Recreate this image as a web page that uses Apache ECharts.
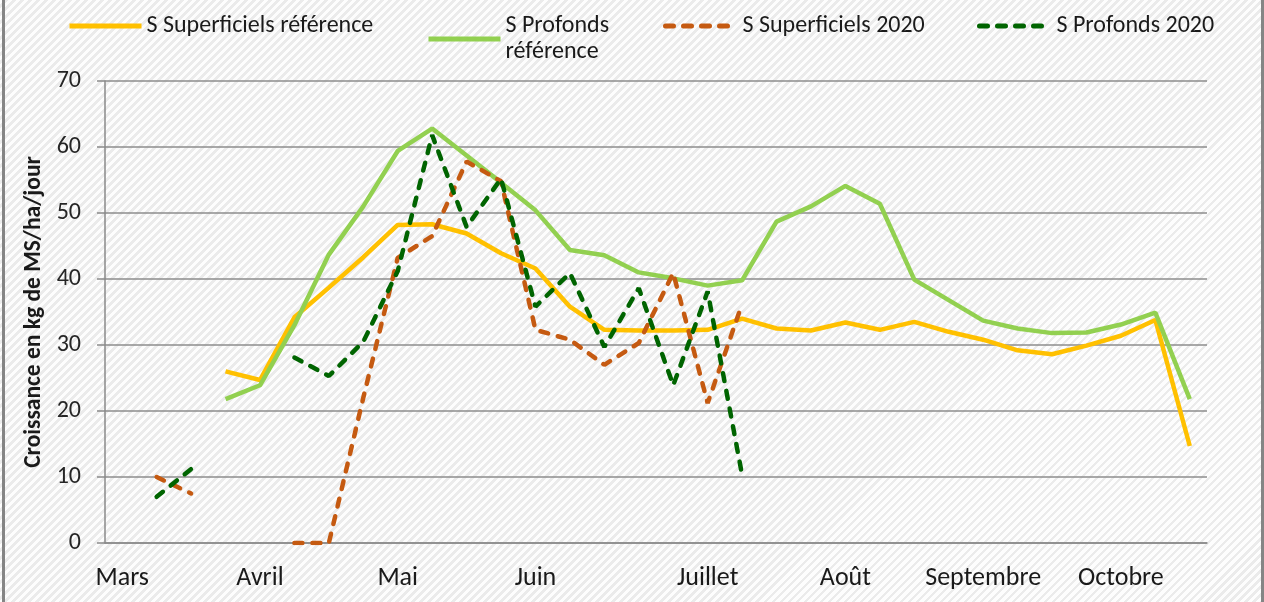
<!DOCTYPE html>
<html lang="fr">
<head>
    <meta charset="UTF-8">
    <title>Croissance de l'herbe</title>
    <script src="https://cdn.jsdelivr.net/npm/echarts@6/dist/echarts.min.js"></script>
</head>
<style>
    body {
        margin: 0px;
        padding: 0px;
    }
    #fond {
        position: absolute;
        top: 0px;
        left: 0px;
        width: 1264px;
        height: 602px;
        background: repeating-linear-gradient(135deg, #fdfdfd 0px, #fdfdfd 3px, #ebebeb 3px, #ebebeb 5.66px);
    }
    #bord {
        position: absolute;
        top: 0px;
        left: 2px;
        width: 1256px;
        height: 602px;
        border-left: 3px solid #858585;
        border-right: 3px solid #858585;
    }
    #main {
        position: absolute;
        top: 0px;
        left: 0px;
    }
</style>
<body>
<div id="fond"></div>
<div id="bord"></div>
<div id="main" style="width: 1264px;height:602px;"></div>
<script type="text/javascript">
    // semaines (une categorie par semaine), etiquettes des mois
    var semaines = [];
    for (var k = 1; k <= 32; k++) { semaines.push('s' + k); }
    var moisLabels = ['Mars', '', '', '', 'Avril', '', '', '', 'Mai', '', '', '', 'Juin', '', '', '', '',
        'Juillet', '', '', '', 'Août', '', '', '', 'Septembre', '', '', '', 'Octobre', '', ''];

    var supRef = [null, null, null, 26.0, 24.7, 34.2, 38.7, 43.3, 48.2, 48.3, 46.9, 43.9, 41.6, 35.8, 32.3, 32.2,
        32.2, 32.3, 34.0, 32.5, 32.2, 33.4, 32.3, 33.5, 32.0, 30.8, 29.2, 28.6, 29.9, 31.4, 33.8, 14.7];
    var profRef = [null, null, null, 21.8, 23.9, 33.0, 43.7, 51.0, 59.4, 62.8, 58.7, 54.6, 50.4, 44.4, 43.6, 41.0,
        40.1, 39.0, 39.8, 48.7, 51.0, 54.1, 51.4, 39.9, 36.8, 33.7, 32.5, 31.8, 31.9, 33.1, 34.9, 21.8];
    var sup2020 = [null, 10.0, 7.5, null, null, 0, 0, 22.0, 43.2, 46.5, 57.8, 54.8, 32.3, 30.8, 27.0, 30.3,
        40.9, 21.2, 36.2];
    var prof2020 = [null, 7.0, 11.2, null, null, 28.1, 25.3, 30.5, 41.2, 61.8, 47.9, 55.2, 35.8, 40.9, 29.7, 38.6,
        23.9, 38.1, 10.3];

    var police = 'Carlito, Lato, sans-serif';
    var myChart = echarts.init(document.getElementById('main'));

    function legende(nom, x, fmt) {
        return {
            data: [nom],
            left: x,
            top: 13,
            padding: 0,
            itemWidth: 72,
            itemHeight: 24,
            itemGap: 4,
            formatter: fmt,
            itemStyle: { opacity: 0 },
            lineStyle: { width: 5 },
            textStyle: { fontFamily: police, fontSize: 24, color: '#1a1a1a', lineHeight: 26 }
        };
    }

    var option = {
        backgroundColor: 'transparent',
        animation: false,
        legend: [
            legende('S Superficiels référence', 67),
            legende('S Profonds référence', 426, 'S Profonds\nréférence'),
            legende('S Superficiels 2020', 663),
            legende('S Profonds 2020', 977)
        ],
        grid: { left: 105, right: 57, top: 81, bottom: 59 },
        xAxis: {
            type: 'category',
            data: semaines,
            boundaryGap: true,
            axisLine: { lineStyle: { color: '#8a8a8a', width: 1.5 } },
            axisTick: { interval: 0, length: 8, lineStyle: { color: '#8a8a8a', width: 1.5 } },
            axisLabel: {
                interval: 0,
                margin: 22,
                fontFamily: police,
                fontSize: 26,
                color: '#1a1a1a',
                formatter: function (v, i) { return moisLabels[i]; }
            },
            splitLine: { show: false }
        },
        yAxis: {
            type: 'value',
            min: 0,
            max: 70,
            interval: 10,
            name: 'Croissance en kg de MS/ha/jour',
            nameLocation: 'middle',
            nameGap: 55,
            nameTextStyle: { fontFamily: police, fontSize: 23.5, fontWeight: 'bold', color: '#1a1a1a' },
            axisLine: { show: true, lineStyle: { color: '#8a8a8a', width: 1.5 } },
            axisTick: { show: true, length: 8, lineStyle: { color: '#8a8a8a', width: 1.5 } },
            axisLabel: { margin: 24, fontFamily: police, fontSize: 24, color: '#262626' },
            splitLine: { lineStyle: { color: '#8c8c8c', width: 1.5 } }
        },
        series: [
            {
                name: 'S Superficiels référence', type: 'line', data: supRef, symbol: 'none',
                itemStyle: { color: '#ffc000' }, lineStyle: { color: '#ffc000', width: 4.5 }
            },
            {
                name: 'S Profonds référence', type: 'line', data: profRef, symbol: 'none',
                itemStyle: { color: '#92d050' }, lineStyle: { color: '#92d050', width: 4.5 }
            },
            {
                name: 'S Superficiels 2020', type: 'line', data: sup2020, symbol: 'none',
                itemStyle: { color: '#c55a11' },
                lineStyle: { color: '#c55a11', width: 4.5, type: [8, 10], cap: 'round' }
            },
            {
                name: 'S Profonds 2020', type: 'line', data: prof2020, symbol: 'none',
                itemStyle: { color: '#006400' },
                lineStyle: { color: '#006400', width: 4.5, type: [8, 10], cap: 'round' }
            }
        ]
    };
    myChart.setOption(option);
</script>
</body>
</html>
